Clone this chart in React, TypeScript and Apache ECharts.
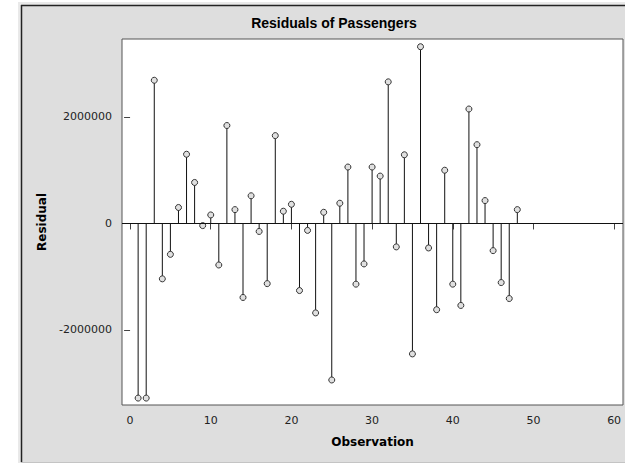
import React, { useEffect, useRef } from "react";
import * as echarts from "echarts";

const observations = [
  1, 2, 3, 4, 5, 6, 7, 8, 9, 10, 11, 12, 13, 14, 15, 16, 17, 18, 19, 20, 21, 22, 23, 24,
  25, 26, 27, 28, 29, 30, 31, 32, 33, 34, 35, 36, 37, 38, 39, 40, 41, 42, 43, 44, 45, 46, 47, 48,
];
const residuals = [
  -3280000, -3280000, 2690000, -1040000, -580000, 300000, 1300000, 770000, -40000, 160000,
  -780000, 1840000, 260000, -1390000, 520000, -150000, -1130000, 1650000, 230000, 360000,
  -1260000, -130000, -1680000, 210000, -2940000, 380000, 1060000, -1140000, -760000, 1060000,
  890000, 2660000, -440000, 1290000, -2450000, 3320000, -460000, -1620000, 1000000, -1140000,
  -1540000, 2150000, 1480000, 430000, -510000, -1110000, -1410000, 260000,
];
const xTicks = [0, 10, 20, 30, 40, 50, 60];
const yTicks = [-2000000, 0, 2000000];

export default function App() {
  const ref = useRef<HTMLDivElement>(null);
  useEffect(() => {
    if (!ref.current) return;
    const chart = echarts.init(ref.current, null, { renderer: "svg" });
    const points = observations.map((o, i) => [o, residuals[i]]);
    const axisFont = { fontFamily: "DejaVu Sans", fontSize: 11, color: "#222" };
    chart.setOption({
      animation: false,
      backgroundColor: "#ffffff",
      graphic: [
        { type: "rect", shape: { x: 18, y: 2, width: 607, height: 461 }, style: { fill: "#e9e9e9" }, z: -10 },
        { type: "rect", shape: { x: 21, y: 5, width: 604, height: 457 }, style: { fill: "#dedede" }, z: -9 },
        { type: "line", shape: { x1: 21.5, y1: 5, x2: 21.5, y2: 462 }, style: { stroke: "#222", lineWidth: 1.5 }, z: -8 },
        { type: "line", shape: { x1: 21, y1: 5.5, x2: 625, y2: 5.5 }, style: { stroke: "#222", lineWidth: 1.5 }, z: -8 },
        { type: "line", shape: { x1: 21, y1: 462.5, x2: 625, y2: 462.5 }, style: { stroke: "#c4c4c4", lineWidth: 1 }, z: -8 },
      ],
      title: {
        text: "Residuals of Passengers",
        left: 329,
        top: 11,
        textAlign: "center",
        textStyle: { fontFamily: "Liberation Sans", fontWeight: "bold", fontSize: 14, color: "#000" },
      },
      grid: {
        left: 122,
        top: 39,
        right: 2,
        bottom: 59,
        show: true,
        backgroundColor: "#ffffff",
        borderColor: "#555",
        borderWidth: 1,
      },
      xAxis: {
        type: "value",
        min: -1,
        max: 61.1,
        name: "Observation",
        nameLocation: "middle",
        nameGap: 31,
        nameTextStyle: { fontFamily: "DejaVu Sans", fontWeight: "bold", fontSize: 12, color: "#000" },
        axisLine: { show: false },
        axisTick: { show: true, length: 6, lineStyle: { color: "#444" }, customValues: xTicks },
        axisLabel: { ...axisFont, margin: 10, customValues: xTicks, formatter: (v: number) => String(v) },
        splitLine: { show: false },
      },
      yAxis: {
        type: "value",
        min: -3410000,
        max: 3465000,
        name: "Residual",
        nameLocation: "middle",
        nameRotate: 90,
        nameGap: 73,
        nameTextStyle: { fontFamily: "DejaVu Sans", fontWeight: "bold", fontSize: 12, color: "#000" },
        axisLine: { show: false },
        axisTick: { show: true, length: 6, lineStyle: { color: "#444" }, customValues: yTicks },
        axisLabel: { ...axisFont, margin: 10, customValues: yTicks, formatter: (v: number) => String(v) },
        splitLine: { show: false },
      },
      series: [
        {
          type: "custom",
          data: points,
          renderItem: (params: any, api: any) => {
            const x = api.value(0);
            const y = api.value(1);
            const p0 = api.coord([x, 0]);
            const p1 = api.coord([x, y]);
            return {
              type: "line",
              shape: { x1: p0[0], y1: p0[1], x2: p1[0], y2: p1[1] },
              style: { stroke: "#111", lineWidth: 1 },
            };
          },
          z: 2,
        },
        {
          type: "scatter",
          data: points,
          symbol: "circle",
          symbolSize: 6,
          itemStyle: { color: "#e0e0e0", borderColor: "#333", borderWidth: 1, opacity: 1 },
          z: 3,
          markLine: {
            silent: true,
            symbol: "none",
            label: { show: false },
            lineStyle: { color: "#111", width: 1, type: "solid" },
            data: [{ yAxis: 0 }],
          },
        },
      ],
    });
    return () => chart.dispose();
  }, []);
  return <div ref={ref} style={{ position: "fixed", left: 0, top: 0, width: 625, height: 464 }} />;
}
